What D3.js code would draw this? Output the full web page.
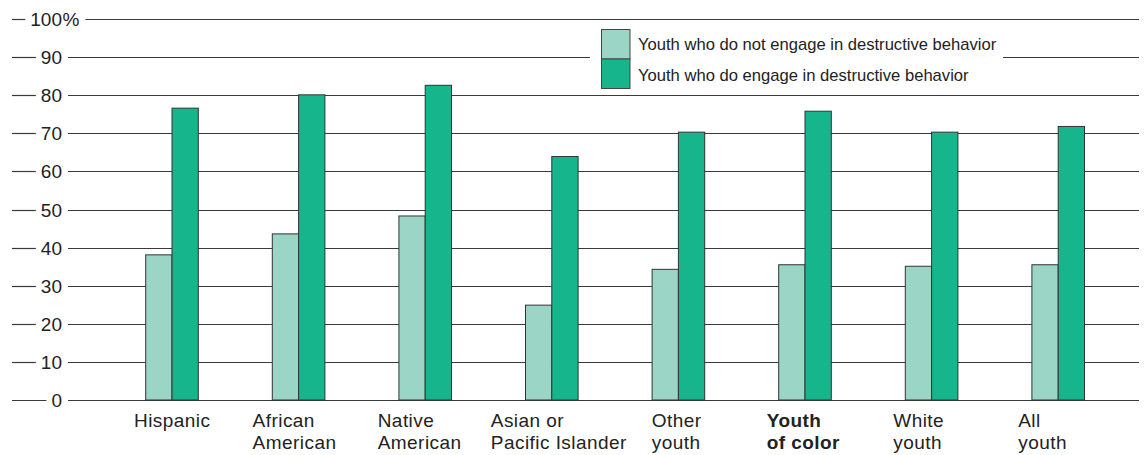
<!DOCTYPE html>
<html>
<head>
<meta charset="utf-8">
<script src="https://cdn.jsdelivr.net/npm/d3@7"></script>
<style>
  html, body { margin: 0; padding: 0; background: #fff; }
  svg { display: block; }
  text { font-family: "Liberation Sans", Arial, Helvetica, sans-serif; fill: #222; }
</style>
</head>
<body>
<svg id="chart" width="1144" height="455"></svg>
<script>
// ---- data ----
const categories = ["Hispanic", "African American", "Native American", "Asian or Pacific Islander",
                    "Other youth", "Youth of color", "White youth", "All youth"];
const categoryLines = [["Hispanic"], ["African", "American"], ["Native", "American"],
                       ["Asian or", "Pacific Islander"], ["Other", "youth"], ["Youth", "of color"],
                       ["White", "youth"], ["All", "youth"]];
const seriesNames = ["Youth who do not engage in destructive behavior",
                     "Youth who do engage in destructive behavior"];
const notEngage = [38.1, 43.6, 48.3, 24.9, 34.3, 35.5, 35.1, 35.5];
const engage    = [76.6, 80.1, 82.6, 63.9, 70.3, 75.8, 70.3, 71.8];
const tickValues = [0, 10, 20, 30, 40, 50, 60, 70, 80, 90, 100];
const tickLabels = ["0", "10", "20", "30", "40", "50", "60", "70", "80", "90", "100"];
const boldCategory = "Youth of color";

// ---- layout ----
const colors = ["#9ad5c5", "#17b58b"];
const labelDx = [-38, -46, -47.5, -61, -26.7, -38.3, -38.3, -40];
const barW = 26.3;

const svg = d3.select("#chart");
const y = d3.scaleLinear().domain([0, 100]).range([400, 19]);
const x0 = d3.scaleBand().domain(categories).range([108.7, 1121.5]).padding(0);
const bw = x0.bandwidth();
const x1 = d3.scaleBand().domain(seriesNames).range([bw / 2 - barW, bw / 2 + barW]).padding(0);

// ---- gridlines with labels ----
const grid = svg.append("g");
const labelRight = 62;
tickValues.forEach((v, i) => {
  const yy = Math.round(y(v)) + 0.5;
  const g = grid.append("g");
  const t = g.append("text")
    .attr("x", labelRight).attr("y", yy + 6.8)
    .attr("text-anchor", "end")
    .style("font-size", "19px")
    .text(tickLabels[i]);
  let left = t.node().getBBox().x;
  let right = labelRight;
  if (v === 100) {
    const p = g.append("text")
      .attr("x", labelRight + 0.5).attr("y", yy + 6.8)
      .style("font-size", "19px")
      .text("%");
    right = labelRight + 0.5 + p.node().getComputedTextLength();
  }
  g.append("line").attr("x1", 12).attr("x2", left - 5).attr("y1", yy).attr("y2", yy)
    .attr("stroke", "#3a3a3a").attr("stroke-width", 1.2);
  g.append("line").attr("x1", right + 6).attr("x2", 1139).attr("y1", yy).attr("y2", yy)
    .attr("stroke", "#3a3a3a").attr("stroke-width", 1.2);
});

// ---- legend ----
const legend = svg.append("g");
legend.append("rect").attr("x", 590).attr("y", 24).attr("width", 413).attr("height", 68).attr("fill", "#fff");
seriesNames.forEach((s, i) => {
  legend.append("rect")
    .attr("x", 601.5).attr("y", 29.5 + i * 29.5)
    .attr("width", 28.5).attr("height", 29.5)
    .attr("fill", colors[i]).attr("stroke", "#444").attr("stroke-width", 1);
  legend.append("text")
    .attr("x", 638).attr("y", 49.5 + i * 31)
    .style("font-size", "16.6px")
    .text(s);
});

// ---- bars ----
const series = [notEngage, engage];
const barsG = svg.append("g");
categories.forEach((c, ci) => {
  seriesNames.forEach((s, si) => {
    const v = series[si][ci];
    barsG.append("rect")
      .attr("x", x0(c) + x1(s))
      .attr("y", y(v))
      .attr("width", x1.bandwidth())
      .attr("height", y(0) - y(v))
      .attr("fill", colors[si])
      .attr("stroke", "#333")
      .attr("stroke-width", 1);
  });
});

// ---- category labels ----
const labG = svg.append("g");
categories.forEach((c, ci) => {
  const cx = x0(c) + bw / 2 + labelDx[ci];
  const t = labG.append("text")
    .attr("x", cx).attr("y", 426.5)
    .style("font-size", "19px")
    .style("letter-spacing", "0.45px")
    .style("font-weight", c === boldCategory ? "bold" : "normal");
  categoryLines[ci].forEach((ln, li) => {
    t.append("tspan").attr("x", cx).attr("y", 426.5 + li * 22.5).text(ln);
  });
});
</script>
</body>
</html>
